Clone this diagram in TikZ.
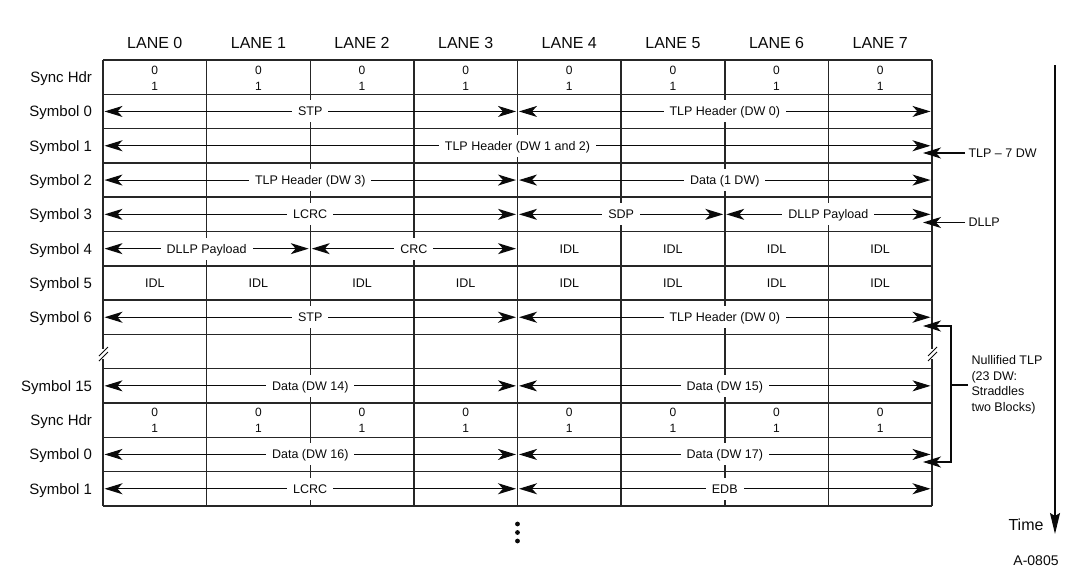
\documentclass[tikz,border=0pt]{standalone}
\usepackage{fontspec}
\setmainfont{Liberation Sans}
\usetikzlibrary{arrows.meta}
\definecolor{ink}{HTML}{0A0A0A}
\definecolor{rule}{HTML}{262626}
\tikzset{
  tabline/.style={draw=rule, line width=1.5pt},
  fl/.style={{Stealth[length=18pt,width=11pt,inset=5pt]}-{Stealth[length=18pt,width=11pt,inset=5pt]},
             draw=ink, line width=1.1pt, shorten <=1.5pt, shorten >=1.5pt},
  pt/.style={-{Stealth[length=18pt,width=11pt,inset=5pt]}, draw=ink, line width=1.1pt},
  lbl/.style={fill=white, text=ink, font=\fontsize{12.5}{14}\selectfont,
              inner xsep=6pt, inner ysep=6.5pt, text height=9pt, text depth=0pt},
  cell/.style={text=ink, font=\fontsize{12.5}{14}\selectfont, text height=9pt, text depth=0pt},
  bit/.style={text=ink, font=\fontsize{12}{13}\selectfont, inner sep=1pt, text height=8.5pt, text depth=0pt},
  lane/.style={text=ink, font=\fontsize{16}{18}\selectfont, text height=11.5pt, text depth=0pt},
  rowlbl/.style={text=ink, font=\fontsize{15}{17}\selectfont, anchor=east, text height=11pt, text depth=0pt},
  note/.style={text=ink, font=\fontsize{12.5}{15.5}\selectfont, anchor=west, align=left}
}

\begin{document}
\begin{tikzpicture}[x=1pt, y=-1pt]
  \useasboundingbox (0,0) rectangle (1082,581);
  % table: horizontal rules, inner lane rules, outer border with break marks
  \foreach \i in {0,...,13} \draw[tabline] (103,{60+34.3*\i}) -- (932,{60+34.3*\i});
  \foreach \k in {1,...,7} \draw[tabline] ({103+103.625*\k},60) -- ({103+103.625*\k},506);
  \foreach \x in {103,932} {
    \draw[tabline] (\x,60) -- (\x,349);
    \draw[tabline] (\x,359) -- (\x,506);
    \draw[ink, line width=1pt] (\x-4,356) -- (\x+5,347) (\x-4,361) -- (\x+5,352);
  }
  % lanes and rows
  \foreach \k in {0,...,7} \node[lane] (lane\k) at ({103+103.625*(\k+0.5)},43) {LANE \k};
  \foreach \i/\t in {0/Sync Hdr,1/Symbol 0,2/Symbol 1,3/Symbol 2,4/Symbol 3,5/Symbol 4,
                     6/Symbol 5,7/Symbol 6,9/Symbol 15,10/Sync Hdr,11/Symbol 0,12/Symbol 1}
    \node[rowlbl] (row\i) at (95.5,{60+34.3*(\i+0.5)}) {\t};
  \foreach \i in {1,...,12} \foreach \k in {0,...,8}
    \coordinate (p\i-\k) at ({103+103.625*\k},{60+34.3*(\i+0.5)});
  % sync headers
  \foreach \k in {0,...,7} {
    \node[bit] (hdrA\k) at ({103+103.625*(\k+0.5)},70) {0};
    \node[bit] (hdrB\k) at ({103+103.625*(\k+0.5)},86) {1};
    \node[bit] (hdrC\k) at ({103+103.625*(\k+0.5)},412.5) {0};
    \node[bit] (hdrD\k) at ({103+103.625*(\k+0.5)},428.5) {1};
  }
  % symbols
  \draw[fl] (p1-0) -- node[lbl] (stpA) {STP} (p1-4);
  \draw[fl] (p1-4) -- node[lbl] (hdrdw0A) {TLP Header (DW 0)} (p1-8);
  \draw[fl] (p2-0) -- node[lbl] (hdrdw12) {TLP Header (DW 1 and 2)} (p2-8);
  \draw[fl] (p3-0) -- node[lbl] (hdrdw3) {TLP Header (DW 3)} (p3-4);
  \draw[fl] (p3-4) -- node[lbl] (data1) {Data (1 DW)} (p3-8);
  \draw[fl] (p4-0) -- node[lbl] (lcrcA) {LCRC} (p4-4);
  \draw[fl] (p4-4) -- node[lbl] (sdp) {SDP} (p4-6);
  \draw[fl] (p4-6) -- node[lbl] (payA) {DLLP Payload} (p4-8);
  \draw[fl] (p5-0) -- node[lbl] (payB) {DLLP Payload} (p5-2);
  \draw[fl] (p5-2) -- node[lbl] (crc) {CRC} (p5-4);
  \foreach \k in {4,...,7} \node[cell] (idlA\k) at ({103+103.625*(\k+0.5)},248.7) {IDL};
  \foreach \k in {0,...,7} \node[cell] (idlB\k) at ({103+103.625*(\k+0.5)},283) {IDL};
  \draw[fl] (p7-0) -- node[lbl] (stpB) {STP} (p7-4);
  \draw[fl] (p7-4) -- node[lbl] (hdrdw0B) {TLP Header (DW 0)} (p7-8);
  \draw[fl] (p9-0) -- node[lbl] (dw14) {Data (DW 14)} (p9-4);
  \draw[fl] (p9-4) -- node[lbl] (dw15) {Data (DW 15)} (p9-8);
  \draw[fl] (p11-0) -- node[lbl] (dw16) {Data (DW 16)} (p11-4);
  \draw[fl] (p11-4) -- node[lbl] (dw17) {Data (DW 17)} (p11-8);
  \draw[fl] (p12-0) -- node[lbl] (lcrcB) {LCRC} (p12-4);
  \draw[fl] (p12-4) -- node[lbl] (edb) {EDB} (p12-8);
  % notes on the right
  \node[note] (tlp7) at (965,153) {TLP -- 7 DW};
  \coordinate (tlp7end) at (923,153);
  \draw[pt] (tlp7.west) -- (tlp7end);
  \node[note] (dllp) at (965,222.5) {DLLP};
  \coordinate (dllpend) at (923,222.5);
  \draw[pt] (dllp.west) -- (dllpend);
  \node[note] (nul) at (968,385) {Nullified TLP\\(23 DW:\\Straddles\\two Blocks)};
  \coordinate (nulA) at (923,326);
  \coordinate (nulB) at (923,462);
  \draw[{Stealth[length=18pt,width=11pt,inset=5pt]}-{Stealth[length=18pt,width=11pt,inset=5pt]}, ink, line width=1.1pt]
    (nulA) -- ++(28,0) |- (nulB);
  \draw[ink, line width=1.1pt] (nul.west) -- (951,385);
  % time axis
  \coordinate (ttop) at (1055,65);
  \coordinate (tbot) at (1055,534);
  \draw[-{Stealth[length=21pt,width=10pt,inset=3pt]}, ink, line width=1.4pt] (ttop) -- (tbot);
  \node[text=ink, font=\fontsize{16}{18}\selectfont, anchor=east] (time) at (1047,525) {Time};
  \node[text=ink, font=\fontsize{14}{16}\selectfont] (fig) at (1036,561) {A-0805};
  % continuation dots
  \foreach \y in {524,532.5,541} \fill[ink] (517.5,\y) circle (2.4);
\end{tikzpicture}
\end{document}
